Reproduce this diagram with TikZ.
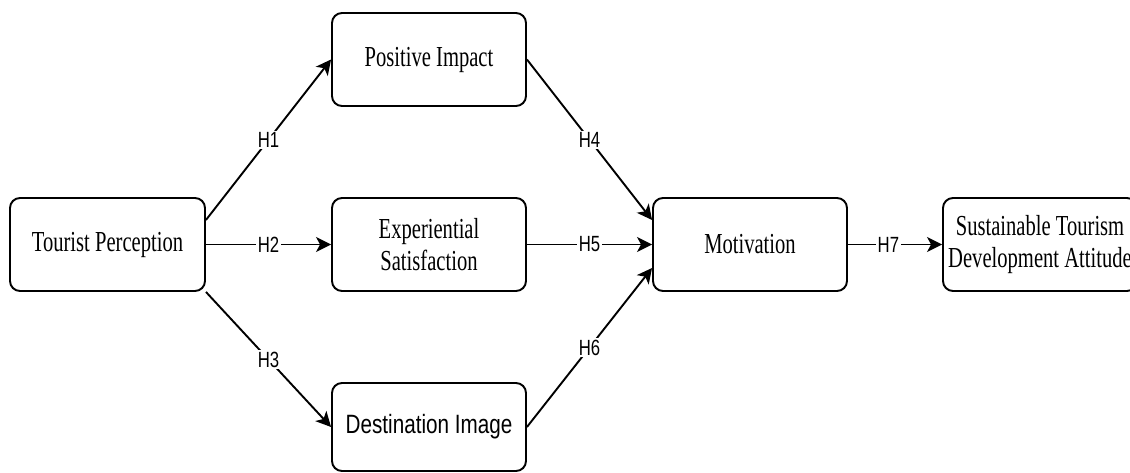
\documentclass[tikz,border=0pt]{standalone}
\usepackage{fontspec}
\usetikzlibrary{arrows.meta,calc}
\newfontfamily\boxserif{Liberation Serif}[FakeStretch=0.71]
\newfontfamily\boxsans{Liberation Sans}[FakeStretch=0.78]
\newfontfamily\lblsans{Liberation Sans}[FakeStretch=0.76]
\begin{document}
\begin{tikzpicture}[x=1pt,y=-1pt,
  box/.style={draw, line width=1.9pt, rounded corners=10pt, minimum width=194pt,
    minimum height=93pt, align=center, inner sep=0pt,
    font=\boxserif\fontsize{29}{32}\selectfont},
  link/.style={draw, line width=1.9pt, -{Stealth[length=15pt,width=15pt,inset=4pt]}},
  hlabel/.style={fill=white, inner sep=1.5pt, font=\lblsans\fontsize{22}{24}\selectfont}]
\useasboundingbox (0,0) rectangle (1130,473);
\node[box, minimum width=195pt] (tp) at (107.5,244.5) {Tourist Perception};
\node[box] (pi) at (429,59.5) {Positive Impact};
\node[box] (es) at (429,244.5) {Experiential\\Satisfaction};
\node[box, minimum height=88pt, font=\boxsans\fontsize{26.5}{28}\selectfont] (di) at (429,427) {Destination Image};
\node[box] (mot) at (750,244.5) {Motivation};
\node[box] (sta) at (1040,244.5) {Sustainable Tourism\\Development Attitude};
\draw[link] ($(tp.east)+(0,-24.5)$) -- node[hlabel]{H1} (pi.west);
\draw[link] (tp.east) -- node[hlabel]{H2} (es.west);
\draw[link] (tp.south east) -- node[hlabel]{H3} (di.west);
\draw[link] (pi.east) -- node[hlabel]{H4} ($(mot.west)+(0,-24.5)$);
\draw[link] (es.east) -- node[hlabel]{H5} (mot.west);
\draw[link] (di.east) -- node[hlabel]{H6} ($(mot.west)+(0,23.5)$);
\draw[link] (mot.east) -- node[hlabel, pos=0.43]{H7} (sta.west);
\end{tikzpicture}
\end{document}
